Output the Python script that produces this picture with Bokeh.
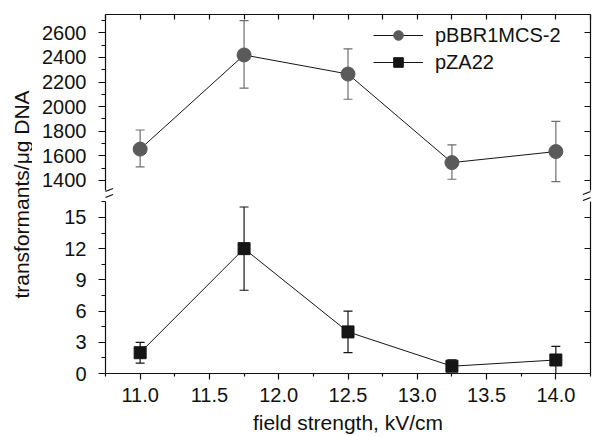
import math
from bokeh.plotting import figure
from bokeh.models import (Range1d, LinearAxis, FixedTicker, Whisker, TeeHead,
                          ColumnDataSource, Legend, LegendItem, Label, Arrow)
from bokeh.layouts import row, column
from bokeh.embed import file_html
from bokeh.resources import INLINE

# ---------------- data ----------------
field = [11.0, 11.75, 12.5, 13.25, 14.0]
pbbr = [1655, 2420, 2265, 1545, 1635]
pbbr_lo = [1510, 2150, 2060, 1410, 1390]
pbbr_hi = [1810, 2700, 2470, 1690, 1880]
pza = [2.0, 12.0, 4.0, 0.7, 1.3]
pza_lo = [1.0, 8.0, 2.0, 0.3, 0.0]
pza_hi = [3.0, 16.0, 6.0, 1.3, 2.6]

x_major = [11.0, 11.5, 12.0, 12.5, 13.0, 13.5, 14.0]
x_minor = [10.75, 11.25, 11.75, 12.25, 12.75, 13.25, 13.75, 14.25]
x_labels = ["11.0", "11.5", "12.0", "12.5", "13.0", "13.5", "14.0"]
up_major = [1400, 1600, 1800, 2000, 2200, 2400, 2600]
up_minor = [1500, 1700, 1900, 2100, 2300, 2500, 2700]
low_major = [0, 3, 6, 9, 12, 15]
low_minor = [1.5, 4.5, 7.5, 10.5, 13.5, 16.5]

FONT = "Liberation Sans"
TXT = "#111111"
AX = "#111111"
C1 = "#5a5a5a"
C1E = "#6e6e6e"
C2 = "#151515"

src1 = ColumnDataSource(dict(x=field, y=pbbr, lo=pbbr_lo, hi=pbbr_hi))
src2 = ColumnDataSource(dict(x=field, y=pza, lo=pza_lo, hi=pza_hi))

X_LO, X_HI = 10.75, 14.25
x_range = Range1d(X_LO, X_HI)

UP_LO, UP_HI = 1319, 2749      # visible extent of the upper axis
LOW_LO, LOW_HI = 0, 16.53      # visible extent of the lower axis

MAIN_W = 562
BORDER_L, BORDER_R = 73, 4


def make_axis(ticks, minor, out, inn, mout, labels, overrides=None, bounds=None):
    ax = LinearAxis(ticker=FixedTicker(ticks=ticks, minor_ticks=minor))
    if bounds is not None:
        ax.bounds = bounds
    ax.axis_line_color = AX
    ax.axis_line_width = 1.2
    ax.major_tick_line_color = AX
    ax.minor_tick_line_color = AX
    ax.major_tick_line_width = 1.2
    ax.minor_tick_line_width = 1.2
    ax.major_tick_out = out
    ax.major_tick_in = inn
    ax.minor_tick_out = mout
    ax.minor_tick_in = 0
    ax.major_label_text_font = FONT
    ax.major_label_text_font_size = "20px"
    ax.major_label_text_color = TXT
    if labels:
        if overrides:
            ax.major_label_overrides = overrides
    else:
        ax.major_label_overrides = {v: "" for v in ticks}
        ax.major_label_standoff = 0
    return ax


# ---------------- upper panel ----------------
up = figure(width=MAIN_W, height=201, x_range=x_range, y_range=Range1d(1229, UP_HI),
            output_backend="svg", toolbar_location=None,
            x_axis_location=None, y_axis_location=None,
            min_border_left=BORDER_L, min_border_right=BORDER_R,
            min_border_top=14, min_border_bottom=0)
up.outline_line_color = None
up.grid.visible = False

la = make_axis(up_major, up_minor, 7, 0, 4, True, bounds=(UP_LO, UP_HI))
la.major_label_standoff = 12
up.add_layout(la, "left")
up.add_layout(make_axis(up_major, [], 0, 6, 0, False, bounds=(UP_LO, UP_HI)), "right")
up.add_layout(make_axis(x_minor + x_major, [], 0, 5, 0, False), "above")

w1 = Whisker(base="x", upper="hi", lower="lo", source=src1, line_color=C1E, line_width=1.2,
             upper_head=TeeHead(size=9, line_color=C1E, line_width=1.2),
             lower_head=TeeHead(size=9, line_color=C1E, line_width=1.2), level="underlay")
up.add_layout(w1)
l1 = up.line("x", "y", source=src1, line_color=C2, line_width=1)
s1 = up.scatter("x", "y", source=src1, marker="circle", size=14, fill_color=C1, line_color=C1)
# same pZA22 renderers (outside this panel's range) so the legend can show them
l2u = up.line("x", "y", source=src2, line_color=C2, line_width=1)
s2u = up.scatter("x", "y", source=src2, marker="square", size=12, fill_color=C2, line_color=C2)

legend = Legend(items=[LegendItem(label="pBBR1MCS-2", renderers=[l1, s1]),
                       LegendItem(label="pZA22", renderers=[l2u, s2u])],
                location=(268, 127), glyph_width=50, glyph_height=24, label_height=24,
                label_standoff=12, spacing=3, padding=0, margin=0,
                border_line_color=None, background_fill_alpha=0,
                label_text_font=FONT, label_text_font_size="20px", label_text_color=TXT)
up.add_layout(legend)

# axis break marks "//" below the end of the upper axis (decoration)
BRK_DX = 0.055
for xb in (X_LO, X_HI):
    for y0, y1 in ((1286, 1335), (1237, 1286)):
        up.add_layout(Arrow(x_start=xb - BRK_DX, y_start=y0, x_end=xb + BRK_DX, y_end=y1,
                            start=None, end=None, line_color=AX, line_width=1.2))

# ---------------- lower panel ----------------
low = figure(width=MAIN_W, height=235, x_range=x_range, y_range=Range1d(0, LOW_HI),
             output_backend="svg", toolbar_location=None,
             x_axis_location=None, y_axis_location=None,
             min_border_left=BORDER_L, min_border_right=BORDER_R,
             min_border_top=0, min_border_bottom=62)
low.outline_line_color = None
low.grid.visible = False

lla = make_axis(low_major, low_minor, 7, 0, 4, True, bounds=(LOW_LO, LOW_HI))
lla.major_label_standoff = 12
low.add_layout(lla, "left")
low.add_layout(make_axis(low_major, [], 0, 6, 0, False, bounds=(LOW_LO, LOW_HI)), "right")
ba = make_axis(x_major, x_minor, 6, 0, 3, True,
               overrides={v: s for v, s in zip(x_major, x_labels)})
ba.major_label_standoff = 8
ba.axis_label = "field strength, kV/cm"
ba.axis_label_text_font = FONT
ba.axis_label_text_font_size = "21px"
ba.axis_label_text_font_style = "normal"
ba.axis_label_text_color = TXT
ba.axis_label_standoff = 6
low.add_layout(ba, "below")

w2 = Whisker(base="x", upper="hi", lower="lo", source=src2, line_color=C2, line_width=1.2,
             upper_head=TeeHead(size=9, line_color=C2, line_width=1.2),
             lower_head=TeeHead(size=9, line_color=C2, line_width=1.2), level="underlay")
low.add_layout(w2)
low.line("x", "y", source=src2, line_color=C2, line_width=1)
low.scatter("x", "y", source=src2, marker="square", size=12, fill_color=C2, line_color=C2)

# ---------------- y-axis title ----------------
lab = figure(width=32, height=436, x_range=Range1d(0, 32), y_range=Range1d(0, 436),
             output_backend="svg", toolbar_location=None,
             x_axis_location=None, y_axis_location=None, min_border=0)
lab.outline_line_color = None
lab.grid.visible = False
lab.add_layout(Label(x=21, y=242, text="transformants/\u03bcg DNA", angle=math.pi / 2,
                     text_align="center", text_baseline="middle", text_font=FONT,
                     text_font_size="21px", text_color=TXT))

p = row(lab, column(up, low, spacing=0), spacing=0)
open("out.html", "w").write(file_html(p, INLINE))
